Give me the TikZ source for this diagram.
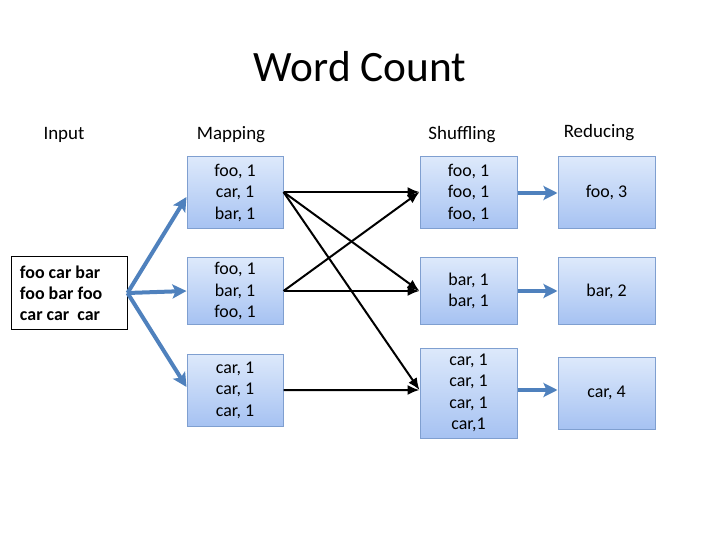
\documentclass[tikz,border=0pt]{standalone}
\usepackage{fontspec}
\setmainfont{Carlito}
\usetikzlibrary{arrows.meta}
\definecolor{boxtop}{HTML}{DDE9FB}
\definecolor{boxbot}{HTML}{A6C2F2}
\definecolor{boxline}{HTML}{7F9FD0}
\definecolor{barrow}{HTML}{4F81BD}
\begin{document}
\begin{tikzpicture}[x=1bp,y=1bp,
  gbox/.style={draw=boxline,line width=1bp,top color=boxtop,bottom color=boxbot,
    minimum width=97bp,align=center,inner sep=0pt,
    font=\fontsize{18}{21.5}\selectfont},
  head/.style={font=\fontsize{19}{23}\selectfont},
  blk/.style={line width=2bp,-{Latex[length=12bp,width=10bp]}},
  blu/.style={draw=barrow,line width=4bp,-{Stealth[length=14bp,width=14bp,inset=3bp]}}]
\useasboundingbox (0,0) rectangle (720,-540);
\node[font=\fontsize{43.5}{50}\selectfont] (title) at (360,-67) {Word Count};
\node[head] (hin) at (64,-135) {Input};
\node[head] (hmap) at (231,-135) {Mapping};
\node[head] (hshuf) at (462,-135) {Shuffling};
\node[head] (hred) at (599,-133) {Reducing};
\node[draw,line width=1bp,minimum width=115bp,minimum height=72bp,align=flush left,
  text width=99bp,inner xsep=8bp,inner ysep=0pt,
  font=\fontsize{18}{21}\selectfont\bfseries] (in) at (69.5,-293)
  {foo car bar\\foo bar foo\\car car\ \ car};
\node[gbox,minimum width=96bp,minimum height=72bp] (m1) at (235,-193) {foo, 1\\car, 1\\bar, 1};
\node[gbox,minimum width=96bp,minimum height=66bp] (m2) at (235,-291) {foo, 1\\bar, 1\\foo, 1};
\node[gbox,minimum width=96bp,minimum height=72bp] (m3) at (235,-390) {car, 1\\car, 1\\car, 1};
\node[gbox,minimum height=72bp] (s1) at (468.5,-193) {foo, 1\\foo, 1\\foo, 1};
\node[gbox,minimum height=66bp] (s2) at (468.5,-291) {bar, 1\\bar, 1};
\node[gbox,minimum height=90bp] (s3) at (468.5,-393) {car, 1\\car, 1\\car, 1\\car,1};
\node[gbox,minimum height=72bp] (r1) at (606.5,-193) {foo, 3};
\node[gbox,minimum height=66bp] (r2) at (606.5,-291) {bar, 2};
\node[gbox,minimum height=72bp] (r3) at (606.5,-393) {car, 4};
\draw[blu] (in.east) -- ([yshift=-4bp]m1.west);
\draw[blu] (in.east) -- (m2.west);
\draw[blu] (in.east) -- ([yshift=3bp]m3.west);
\draw[blk] ([yshift=1bp]m1.east) -- ([yshift=1bp]s1.west);
\draw[blk] ([yshift=1bp]m1.east) -- (s2.west);
\draw[blk] ([yshift=1bp]m1.east) -- ([yshift=3bp]s3.west);
\draw[blk] (m2.east) -- ([yshift=1bp]s1.west);
\draw[blk] (m2.east) -- (s2.west);
\draw[blk] (m3.east) -- ([yshift=3bp]s3.west);
\draw[blu] (s1.east) -- (r1.west);
\draw[blu] (s2.east) -- (r2.west);
\draw[blu] ([yshift=3bp]s3.east) -- ([yshift=3bp]r3.west);
\end{tikzpicture}
\end{document}
